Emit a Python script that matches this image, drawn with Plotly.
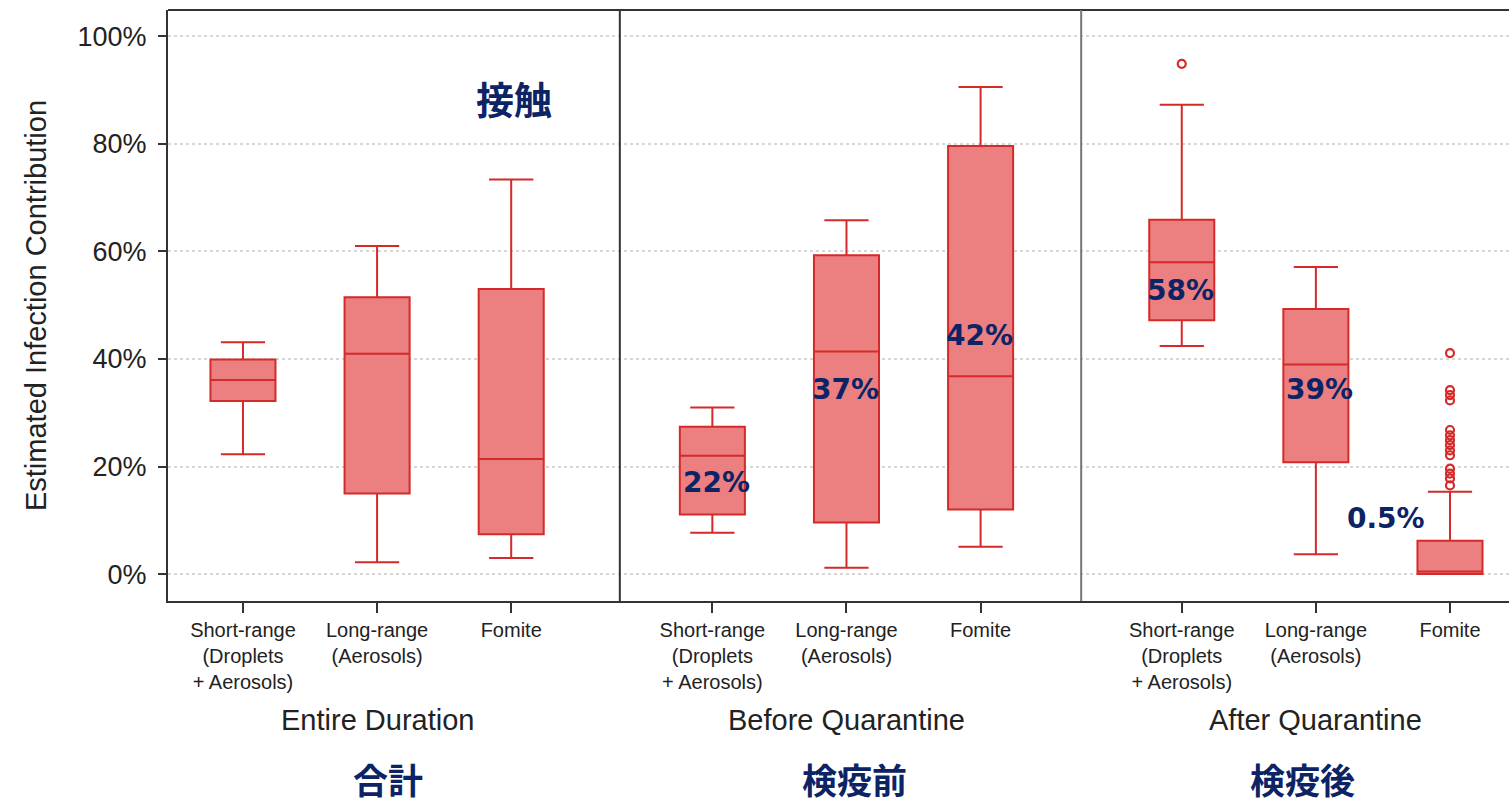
import plotly.graph_objects as go

# Transmission routes and study periods
routes = ["Short-range<br>(Droplets<br>+ Aerosols)", "Long-range<br>(Aerosols)", "Fomite"]
periods = ["Entire Duration", "Before Quarantine", "After Quarantine"]
periods_ja = ["合計", "検疫前", "検疫後"]

# Y axis ticks
y_ticks = [0, 20, 40, 60, 80, 100]
y_tick_labels = ["0%", "20%", "40%", "60%", "80%", "100%"]

# Box statistics (% contribution), ordered period by period, route by route
q1 = [32.2, 15.0, 7.4, 11.1, 9.6, 12.0, 47.2, 20.8, 0.0]
median = [36.1, 41.0, 21.4, 22.0, 41.4, 36.8, 58.0, 39.0, 0.5]
q3 = [39.9, 51.5, 53.0, 27.4, 59.3, 79.6, 65.9, 49.3, 6.2]
lower_whisker = [22.3, 2.2, 3.0, 7.7, 1.2, 5.1, 42.4, 3.7, 0.0]
upper_whisker = [43.1, 61.0, 73.4, 31.0, 65.8, 90.6, 87.3, 57.1, 15.3]

# Outlying simulation results (After Quarantine)
outliers_short_after = [94.9]
outliers_fomite_after = [41.1, 34.2, 33.3, 32.3, 26.8, 25.8, 24.9, 24.0, 23.0, 22.1,
                         19.6, 18.7, 17.8, 16.5]

# Highlighted percentages written on the panels
pct_labels = ["22%", "37%", "42%", "58%", "39%", "0.5%"]
pct_label_x = [3.53, 4.49, 5.49, 6.99, 8.03, 8.52]
pct_label_y = [17.1, 34.4, 44.4, 52.8, 34.4, 10.4]

# Horizontal layout: three boxes per period, with a wider gap between periods
group_offsets = [0.0, 3.5, 7.0]
positions = [g + i for g in group_offsets for i in range(3)]
group_centers = [g + 1 for g in group_offsets]
dividers = [2.81, 6.25]

BOX_LINE = "#d42a2a"
BOX_FILL = "#ec7f7f"
NAVY = "#0c2466"
TEXT = "#222222"
SANS = "Liberation Sans, Arial, sans-serif"

fig = go.Figure()

fig.add_trace(go.Box(
    x=positions,
    q1=q1,
    median=median,
    q3=q3,
    lowerfence=lower_whisker,
    upperfence=upper_whisker,
    width=0.485,
    whiskerwidth=0.68,
    fillcolor=BOX_FILL,
    line=dict(color=BOX_LINE, width=2),
    boxpoints=False,
    showlegend=False,
    hoverinfo="skip",
))

out_x = [positions[6]] * len(outliers_short_after) + [positions[8]] * len(outliers_fomite_after)
out_y = outliers_short_after + outliers_fomite_after
fig.add_trace(go.Scatter(
    x=out_x,
    y=out_y,
    mode="markers",
    marker=dict(symbol="circle-open", size=8, color=BOX_LINE, line=dict(width=2.2, color=BOX_LINE)),
    showlegend=False,
    hoverinfo="skip",
))

shapes = [
    # top border of the plotting frame
    dict(type="line", xref="paper", yref="paper", x0=0, x1=1, y0=1, y1=1,
         line=dict(color="#333333", width=2)),
]
for k, dx in enumerate(dividers):
    shapes.append(dict(type="line", xref="x", yref="paper", x0=dx, x1=dx, y0=0, y1=1,
                       line=dict(color="#333333" if k == 0 else "#777777", width=2)))

annotations = []
for label, xc in zip(periods, group_centers):
    annotations.append(dict(x=xc, y=-0.2014, xref="x", yref="paper", text=label,
                            showarrow=False, yanchor="middle", xanchor="center",
                            font=dict(family=SANS, size=29, color=TEXT)))
for label, xc in zip(periods_ja, [1.08, 4.56, 7.90]):
    annotations.append(dict(x=xc, y=-0.301, xref="x", yref="paper", text=f"<b>{label}</b>",
                            showarrow=False, yanchor="middle", xanchor="center",
                            font=dict(family="Noto Sans CJK JP", size=35, color=NAVY)))
annotations.append(dict(x=2.02, y=88.7, xref="x", yref="y", text="<b>接触</b>",
                        showarrow=False, yanchor="middle", xanchor="center",
                        font=dict(family="Noto Sans CJK JP", size=38, color=NAVY)))
for txt, xv, yv in zip(pct_labels, pct_label_x, pct_label_y):
    annotations.append(dict(x=xv, y=yv, xref="x", yref="y", text=f"<b>{txt}</b>",
                            showarrow=False, yanchor="middle", xanchor="center",
                            font=dict(family="DejaVu Sans", size=28, color=NAVY)))

fig.update_layout(
    width=1509,
    height=806,
    margin=dict(l=168, r=0, t=10, b=205),
    paper_bgcolor="white",
    plot_bgcolor="white",
    shapes=shapes,
    annotations=annotations,
    xaxis=dict(
        range=[-0.559, 9.44],
        tickvals=positions,
        ticktext=routes * 3,
        ticks="outside",
        ticklen=10,
        tickwidth=1.5,
        tickcolor="#333333",
        tickfont=dict(family=SANS, size=20, color=TEXT),
        showgrid=False,
        zeroline=False,
        showline=True,
        linecolor="#333333",
        linewidth=2,
        fixedrange=True,
    ),
    yaxis=dict(
        range=[-5.0, 104.9],
        tickmode="array",
        tickvals=y_ticks,
        ticktext=y_tick_labels,
        ticks="outside",
        ticklen=8,
        tickwidth=1.5,
        tickcolor="#333333",
        ticklabelstandoff=6,
        tickfont=dict(family=SANS, size=27, color=TEXT),
        showgrid=True,
        gridcolor="#d6d6d6",
        griddash="dot",
        gridwidth=1.5,
        zeroline=False,
        showline=True,
        linecolor="#333333",
        linewidth=2,
        title=dict(text="Estimated Infection Contribution",
                   font=dict(family=SANS, size=29, color=TEXT), standoff=22),
        fixedrange=True,
    ),
)

fig.write_html("out.html")
